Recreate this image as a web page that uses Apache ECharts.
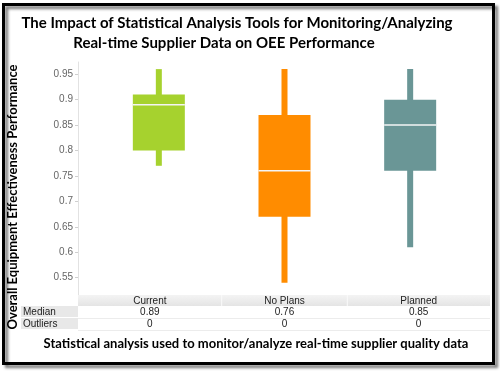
<!DOCTYPE html>
<html>
<head>
<meta charset="utf-8">
<script src="https://cdn.jsdelivr.net/npm/echarts@6/dist/echarts.min.js"></script>
<style>
html,body{margin:0;padding:0;background:#fff;}
#chart{width:500px;height:372px;}
</style>
</head>
<body>
<div id="chart"></div>
<script>
// ---- data ----
const categories = ['Current', 'No Plans', 'Planned'];
const whiskerLow  = [0.77, 0.54, 0.61];
const quartile1   = [0.80, 0.67, 0.76];
const medians     = [0.89, 0.76, 0.85];
const quartile3   = [0.91, 0.87, 0.90];
const whiskerHigh = [0.96, 0.96, 0.96];
const outliers    = [0, 0, 0];
const boxColors   = ['#a6d22e', '#ff8c00', '#6a9696'];
const yTicks      = [0.55, 0.6, 0.65, 0.7, 0.75, 0.8, 0.85, 0.9, 0.95];
const rowLabels   = ['Median', 'Outliers'];

const titleLine1 = 'The Impact of Statistical Analysis Tools for Monitoring/Analyzing';
const titleLine2 = 'Real-time Supplier Data on OEE Performance';
const yTitle = 'Overall Equipment Effectiveness Performance';
const xTitle = 'Statistical analysis used to monitor/analyze real-time supplier quality data';

// ---- layout ----
const Y_MIN = 0.516, Y_MAX = 0.974;
const PLOT_TOP = 62, PLOT_BOTTOM_Y = 295;
const TITLE_FONT = 'Lato';
const BODY_FONT = '"Liberation Sans", Arial, sans-serif';

const chart = echarts.init(document.getElementById('chart'), null, {renderer: 'canvas'});

const boxData = categories.map((c, i) => ({
  value: [i, whiskerLow[i], quartile1[i], medians[i], quartile3[i], whiskerHigh[i]],
  itemStyle: {color: boxColors[i]}
}));

// table graphics
const colEdges = [78, 221.7, 347.3, 490];
const rowTops = [295, 306, 318, 330];
const graphics = [];
// frame
graphics.push({
  type: 'rect', z: 100,
  shape: {x: 3.5, y: 4.5, width: 490, height: 359},
  style: {fill: 'none', stroke: '#000', lineWidth: 3,
    shadowBlur: 3, shadowOffsetX: 3, shadowOffsetY: 3, shadowColor: 'rgba(0,0,0,0.55)'}
});
// header band
graphics.push({
  type: 'rect', z: 10,
  shape: {x: colEdges[0], y: rowTops[0], width: colEdges[3] - colEdges[0], height: rowTops[1] - rowTops[0]},
  style: {fill: new echarts.graphic.LinearGradient(0, 0, 0, 1, [
    {offset: 0, color: '#f4f4f4'}, {offset: 1, color: '#e4e4e4'}])}
});
for (let k = 1; k < 3; k++) {
  graphics.push({type: 'line', z: 11,
    shape: {x1: colEdges[k], y1: rowTops[0], x2: colEdges[k], y2: rowTops[1]},
    style: {stroke: '#fafafa', lineWidth: 1}});
}
categories.forEach((c, i) => {
  const cx = (colEdges[i] + colEdges[i + 1]) / 2;
  graphics.push({type: 'text', z: 12,
    style: {text: c, x: cx, y: (rowTops[0] + rowTops[1]) / 2 + 0.5, align: 'center', verticalAlign: 'middle',
      font: '10px ' + BODY_FONT, fill: '#222'}});
  graphics.push({type: 'text', z: 12,
    style: {text: medians[i].toFixed(2), x: cx, y: (rowTops[1] + rowTops[2]) / 2 + 0.5, align: 'center', verticalAlign: 'middle',
      font: '10px ' + BODY_FONT, fill: '#222'}});
  graphics.push({type: 'text', z: 12,
    style: {text: String(outliers[i]), x: cx, y: (rowTops[2] + rowTops[3]) / 2 + 0.5, align: 'center', verticalAlign: 'middle',
      font: '10px ' + BODY_FONT, fill: '#222'}});
});
rowLabels.forEach((r, j) => {
  graphics.push({type: 'rect', z: 10,
    shape: {x: 21, y: rowTops[j + 1], width: colEdges[0] - 21, height: rowTops[j + 2] - rowTops[j + 1] - 1},
    style: {fill: '#e8e8e8'}});
  graphics.push({type: 'text', z: 12,
    style: {text: r, x: 23, y: (rowTops[j + 1] + rowTops[j + 2]) / 2, align: 'left', verticalAlign: 'middle',
      font: '10px ' + BODY_FONT, fill: '#222'}});
  graphics.push({type: 'line', z: 11,
    shape: {x1: colEdges[0], y1: rowTops[j + 2] + 0.5, x2: colEdges[3], y2: rowTops[j + 2] + 0.5},
    style: {stroke: '#ececec', lineWidth: 1}});
});
// titles
graphics.push({type: 'text', z: 20,
  style: {text: titleLine1, x: 237, y: 23, align: 'center', verticalAlign: 'middle',
    font: 'bold 15px ' + TITLE_FONT, fill: '#000'}});
graphics.push({type: 'text', z: 20,
  style: {text: titleLine2, x: 224, y: 43, align: 'center', verticalAlign: 'middle',
    font: 'bold 15px ' + TITLE_FONT, fill: '#000'}});
graphics.push({type: 'text', z: 20, x: 13, y: 197, rotation: Math.PI / 2,
  style: {text: yTitle, x: 0, y: 0, align: 'center', verticalAlign: 'middle',
    font: 'bold 13px ' + TITLE_FONT, fill: '#000'}});
graphics.push({type: 'text', z: 20,
  style: {text: xTitle, x: 256, y: 344, align: 'center', verticalAlign: 'middle',
    font: 'bold 13px ' + TITLE_FONT, fill: '#000'}});

const option = {
  backgroundColor: '#fff',
  animation: false,
  grid: [
    {left: 78, right: 10, top: PLOT_TOP, bottom: 372 - PLOT_BOTTOM_Y, show: false},
    {left: 96, right: 27, top: PLOT_TOP, bottom: 372 - PLOT_BOTTOM_Y, show: false}
  ],
  xAxis: [
    {type: 'category', gridIndex: 0, data: categories, show: false},
    {type: 'category', gridIndex: 1, data: categories, show: false, boundaryGap: true}
  ],
  yAxis: [
    {type: 'value', gridIndex: 0, min: Y_MIN, max: Y_MAX,
      axisLine: {show: true, lineStyle: {color: '#e2e2e2', width: 1}},
      axisTick: {show: true, length: 3, lineStyle: {color: '#cfcfcf'}, customValues: yTicks},
      axisLabel: {show: true, color: '#666', fontSize: 10, fontFamily: BODY_FONT, margin: 5,
        customValues: yTicks, formatter: v => String(+v.toFixed(2))},
      splitLine: {show: false}},
    {type: 'value', gridIndex: 1, min: Y_MIN, max: Y_MAX, show: false, splitLine: {show: false}}
  ],
  series: [{
    type: 'custom',
    xAxisIndex: 1, yAxisIndex: 1,
    data: boxData,
    renderItem: function (params, api) {
      const x = api.value(0);
      const pLow = api.coord([x, api.value(1)]);
      const pQ1 = api.coord([x, api.value(2)]);
      const pMed = api.coord([x, api.value(3)]);
      const pQ3 = api.coord([x, api.value(4)]);
      const pHigh = api.coord([x, api.value(5)]);
      const color = api.visual('color');
      const bw = 52, ww = 6;
      const cx = pMed[0];
      return {type: 'group', children: [
        {type: 'rect', shape: {x: cx - ww / 2, y: pHigh[1], width: ww, height: pLow[1] - pHigh[1]}, style: {fill: color}},
        {type: 'rect', shape: {x: cx - bw / 2, y: pQ3[1], width: bw, height: pQ1[1] - pQ3[1]}, style: {fill: color}},
        {type: 'line', shape: {x1: cx - bw / 2, y1: pMed[1], x2: cx + bw / 2, y2: pMed[1]}, style: {stroke: '#f4f4f4', lineWidth: 1.5}}
      ]};
    }
  }],
  graphic: graphics
};
chart.setOption(option);
</script>
</body>
</html>
